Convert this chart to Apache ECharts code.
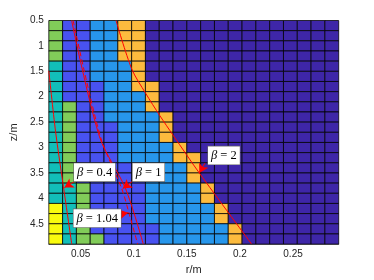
<!DOCTYPE html>
<html><head><meta charset="utf-8">
<script src="https://cdn.jsdelivr.net/npm/echarts@6/dist/echarts.min.js"></script>
<style>html,body{margin:0;padding:0;background:#fff}#c{width:374px;height:280px}</style>
</head><body><div id="c"></div>
<script>
// cell centres (r in m, z in m)
const rCenters = [0.0265,0.0395,0.0525,0.0655,0.0785,0.0915,0.1045,0.1175,0.1305,0.1435,0.1565,0.1695,0.1825,0.1955,0.2085,0.2215,0.2345,0.2475,0.2605,0.2735,0.2865];
const zCenters = [0.6,0.8,1.0,1.2,1.4,1.6,1.8,2.0,2.2,2.4,2.6,2.8,3.0,3.2,3.4,3.6,3.8,4.0,4.2,4.4,4.6,4.8];
// level of each cell, one row per z centre
const cellLevels = [
 [5,2,2,3,3,6,6,1,1,1,1,1,1,1,1,1,1,1,1,1,1],
 [5,2,2,3,3,6,6,1,1,1,1,1,1,1,1,1,1,1,1,1,1],
 [5,2,2,3,3,6,6,1,1,1,1,1,1,1,1,1,1,1,1,1,1],
 [5,2,2,3,3,6,6,1,1,1,1,1,1,1,1,1,1,1,1,1,1],
 [4,2,2,3,3,3,6,1,1,1,1,1,1,1,1,1,1,1,1,1,1],
 [4,2,2,3,3,3,6,1,1,1,1,1,1,1,1,1,1,1,1,1,1],
 [4,2,2,2,3,3,6,6,1,1,1,1,1,1,1,1,1,1,1,1,1],
 [4,2,2,2,3,3,3,6,1,1,1,1,1,1,1,1,1,1,1,1,1],
 [4,5,2,2,3,3,3,6,1,1,1,1,1,1,1,1,1,1,1,1,1],
 [4,5,2,2,3,3,3,3,6,1,1,1,1,1,1,1,1,1,1,1,1],
 [4,5,2,2,2,3,3,3,6,1,1,1,1,1,1,1,1,1,1,1,1],
 [4,5,2,2,2,3,3,3,6,1,1,1,1,1,1,1,1,1,1,1,1],
 [4,5,2,2,2,3,3,3,3,6,1,1,1,1,1,1,1,1,1,1,1],
 [4,5,2,2,2,3,3,3,3,6,6,1,1,1,1,1,1,1,1,1,1],
 [4,5,2,2,2,2,2,3,3,3,6,1,1,1,1,1,1,1,1,1,1],
 [4,5,2,2,2,2,2,3,3,3,6,1,1,1,1,1,1,1,1,1,1],
 [4,4,5,2,2,2,2,3,3,3,3,6,1,1,1,1,1,1,1,1,1],
 [4,4,5,2,2,2,2,3,3,3,3,6,1,1,1,1,1,1,1,1,1],
 [7,4,5,2,2,2,2,3,3,3,3,3,6,1,1,1,1,1,1,1,1],
 [7,4,5,2,2,2,2,3,3,3,3,3,6,1,1,1,1,1,1,1,1],
 [7,4,5,2,2,2,2,2,3,3,3,3,3,6,1,1,1,1,1,1,1],
 [7,4,5,5,2,2,2,2,3,3,3,3,3,6,1,1,1,1,1,1,1]
];
// red boundary curves [r, z]
const beta04 = [[0.0200,1.49],[0.0264,2.69],[0.0337,3.76],[0.0416,4.9]];
const beta1 = [[0.0415,0.5],[0.0678,2.79],[0.0923,3.81],[0.1090,4.9]];
const beta104 = [[0.0429,0.5],[0.0687,2.79],[0.0887,3.81],[0.0954,4.28],[0.1037,4.9]];
const beta2 = [[0.0833,0.5],[0.0981,1.454],[0.1111,1.929],[0.1247,2.377],[0.1372,2.762],[0.1617,3.5],[0.2110,4.9]];
// annotations
const annotTexts = ['0.4','1','1.04','2'];
const annotBoxes = [[0.0631,3.487],[0.1139,3.487],[0.0656,4.39],[0.1849,3.156]];
const arrowTails = [[0.0447,3.662],[0.1012,3.627],[0.0845,4.323],[0.1670,3.308]];
const arrowTips = [[0.0347,3.788],[0.0896,3.808],[0.0946,4.285],[0.1617,3.5]];

const levelColors = ['#3E26A8','#4852F0','#2796EB','#12BEB9','#81CC59','#FCBB3E','#F9FB0E'];
const cellW = 0.013, cellH = 0.2;

const cells = [];
zCenters.forEach((z, j) => rCenters.forEach((r, i) => cells.push([r, z, cellLevels[j][i]])));

const chart = echarts.init(document.getElementById('c'), null, {renderer: 'canvas'});
const axisFont = {fontFamily: 'Liberation Sans, Arial, sans-serif', fontSize: 10, color: '#262626'};

function arrowML(k) {
  return {
    silent: true, symbol: ['none', 'arrow'], symbolSize: [8, 9],
    lineStyle: {color: '#ff0000', width: 1, type: 'solid'},
    itemStyle: {color: '#ff0000'},
    label: {show: false},
    data: [[{coord: arrowTails[k]}, {coord: arrowTips[k]}]]
  };
}
function curve(name, data, dashed, k) {
  return {
    name, type: 'line', data, symbol: 'none', smooth: 0.3, clip: true, z: 5,
    lineStyle: {color: '#ff0000', width: 1, type: dashed ? [5, 3] : 'solid'},
    markLine: arrowML(k)
  };
}

chart.setOption({
  animation: false,
  grid: {left: 48.5, top: 20.5, width: 290.2, height: 228.5},
  xAxis: {
    type: 'value', min: 0.02, max: 0.293,
    name: 'r/m', nameLocation: 'middle', nameGap: 17,
    nameTextStyle: {fontFamily: 'Liberation Sans, Arial, sans-serif', fontSize: 11, color: '#262626'},
    axisLine: {show: true, lineStyle: {color: '#262626', width: 0.6}},
    axisTick: {show: false}, splitLine: {show: false},
    axisLabel: Object.assign({margin: 5, formatter: v => {
      const k = Math.round(v / 0.05);
      return (k > 0 && Math.abs(v - k * 0.05) < 1e-6) ? String(+v.toFixed(2)) : '';
    }}, axisFont)
  },
  yAxis: {
    type: 'value', min: 0.5, max: 4.9, interval: 0.5, inverse: true,
    name: 'z/m', nameLocation: 'middle', nameGap: 17,
    nameTextStyle: {fontFamily: 'Liberation Sans, Arial, sans-serif', fontSize: 11, color: '#262626'},
    axisLine: {show: true, lineStyle: {color: '#262626', width: 0.6}},
    axisTick: {show: false}, splitLine: {show: false},
    axisLabel: Object.assign({margin: 5, formatter: v => {
      const k = Math.round(v / 0.5);
      return Math.abs(v - k * 0.5) < 1e-6 ? String(+v.toFixed(1)) : '';
    }}, axisFont)
  },
  series: [
    {
      type: 'custom', data: cells, encode: {x: 0, y: 1}, z: 1,
      renderItem: (params, api) => {
        const r = api.value(0), z = api.value(1), lv = api.value(2);
        const a = api.coord([r - cellW / 2, z - cellH / 2]);
        const b = api.coord([r + cellW / 2, z + cellH / 2]);
        return {
          type: 'rect',
          shape: {x: Math.min(a[0], b[0]), y: Math.min(a[1], b[1]), width: Math.abs(b[0] - a[0]), height: Math.abs(b[1] - a[1])},
          style: {fill: levelColors[lv - 1], stroke: 'rgba(0,0,0,0.85)', lineWidth: 0.9}
        };
      }
    },
    curve('beta04', beta04, false, 0),
    curve('beta1', beta1, false, 1),
    curve('beta104', beta104, true, 2),
    curve('beta2', beta2, false, 3),
    {
      type: 'scatter', z: 10, symbolSize: 2, itemStyle: {color: 'rgba(0,0,0,0)', opacity: 1},
      data: annotBoxes.map((p, k) => ({value: p, name: annotTexts[k]})),
      label: {
        show: true, position: 'inside',
        formatter: p => '{b|β} = ' + p.name,
        fontFamily: 'Liberation Serif, Times New Roman, serif', fontSize: 12.5, color: '#000',
        backgroundColor: '#fff', borderColor: '#666', borderWidth: 0.6, padding: [3, 3, 2, 3],
        rich: {b: {fontStyle: 'italic', fontFamily: 'Liberation Serif, Times New Roman, serif', fontSize: 12.5, color: '#000'}}
      }
    }
  ]
});
</script></body></html>
